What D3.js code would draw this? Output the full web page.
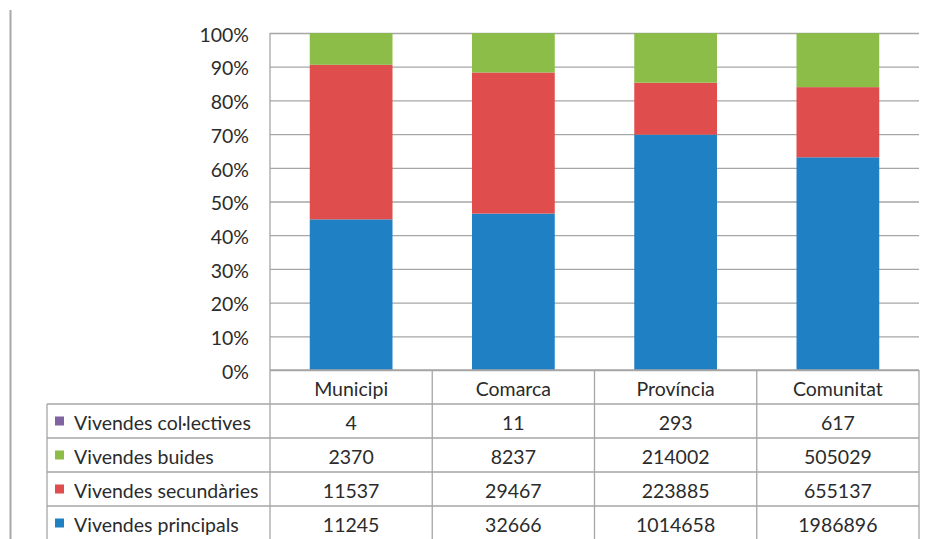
<!DOCTYPE html>
<html><head><meta charset="utf-8">
<script src="https://cdn.jsdelivr.net/npm/d3@7"></script>
<style>body{margin:0;background:#fff}svg{display:block}text{font-family:"Lato","Open Sans",sans-serif;fill:#2b2b2b}</style>
</head><body>
<script>
const categories = ["Municipi", "Comarca", "Província", "Comunitat"];
const seriesNames = ["Vivendes col·lectives", "Vivendes buides", "Vivendes secundàries", "Vivendes principals"];
const colectives = [4, 11, 293, 617];
const buides = [2370, 8237, 214002, 505029];
const secundaries = [11537, 29467, 223885, 655137];
const principals = [11245, 32666, 1014658, 1986896];
const yTicks = [0, 0.1, 0.2, 0.3, 0.4, 0.5, 0.6, 0.7, 0.8, 0.9, 1];
const colors = ["#8064a2", "#8bbd48", "#e04d4d", "#2080c4"];

(function(){
const W = 926, H = 539, FS = 19.5;
const svg = d3.select("body").append("svg").attr("width", W).attr("height", H);
const pL = 270, pR = 919, pT = 33, pB = 370;
const x = d3.scaleBand().domain(categories).range([pL, pR]).paddingInner(0.49).paddingOuter(0.245);
const xc = d3.scaleBand().domain(categories).range([pL, pR]);
const y = d3.scaleLinear().domain([0, 1]).range([pB, pT]);

svg.append("line").attr("x1", 10.5).attr("x2", 10.5).attr("y1", 10).attr("y2", H).attr("stroke", "#a8a8a8").attr("stroke-width", 2);

const grid = d3.axisLeft(y).tickValues(yTicks).tickSize(-(pR - pL)).tickFormat("");
svg.append("g").attr("transform", `translate(${pL},0)`).call(grid)
  .call(g => g.select(".domain").remove())
  .call(g => g.selectAll("line").attr("stroke", "#a6a6a6").attr("stroke-width", 1.3));

const yAx = d3.axisLeft(y).tickValues(yTicks).tickSize(0).tickPadding(21).tickFormat(d3.format(".0%"));
svg.append("g").attr("transform", `translate(${pL},2)`).call(yAx)
  .call(g => g.select(".domain").remove())
  .call(g => g.selectAll("text").attr("font-size", FS).style("fill", "#2b2b2b").attr("font-family", null));

const rows = categories.map((c, i) => ({cat: c, principals: principals[i], secundaries: secundaries[i], buides: buides[i], colectives: colectives[i]}));
const keys = ["principals", "secundaries", "buides", "colectives"];
const keyColor = {principals: colors[3], secundaries: colors[2], buides: colors[1], colectives: colors[0]};
const stack = d3.stack().keys(keys).offset(d3.stackOffsetExpand)(rows);
svg.append("g").selectAll("g").data(stack).join("g").attr("fill", d => keyColor[d.key])
  .selectAll("rect").data(d => d).join("rect")
  .attr("x", d => x(d.data.cat)).attr("width", x.bandwidth())
  .attr("y", d => y(d[1])).attr("height", d => y(d[0]) - y(d[1]));

const lineC = "#a6a6a6";
const rowH = 34;
const tableLeft = 47;
const tg = svg.append("g");
tg.selectAll("text.cat").data(categories).join("text").attr("class", "cat")
  .attr("x", d => xc(d) + xc.bandwidth() / 2).attr("y", pB + rowH / 2 + 1)
  .attr("text-anchor", "middle").attr("dominant-baseline", "central").attr("font-size", FS).text(d => d);
const tableData = [colectives, buides, secundaries, principals];
tableData.forEach((vals, r) => {
  const ry = pB + rowH * (r + 1);
  tg.append("rect").attr("x", tableLeft + 8).attr("y", ry + rowH / 2 - 4.5).attr("width", 9).attr("height", 9).attr("fill", colors[r]);
  tg.append("text").attr("x", tableLeft + 27).attr("y", ry + rowH / 2 + 1).attr("dominant-baseline", "central").attr("font-size", FS).text(seriesNames[r]);
  tg.selectAll(null).data(vals).join("text")
    .attr("x", (d, i) => xc(categories[i]) + xc.bandwidth() / 2).attr("y", ry + rowH / 2 + 1)
    .attr("text-anchor", "middle").attr("dominant-baseline", "central").attr("font-size", FS).text(d => d);
});
for (let r = 0; r <= 5; r++) {
  const ry = pB + rowH * r;
  tg.append("line").attr("x1", r === 0 ? pL : tableLeft).attr("x2", pR).attr("y1", ry).attr("y2", ry).attr("stroke", lineC).attr("stroke-width", 1.3);
}
const vx = [pL].concat(categories.map(c => xc(c) + xc.bandwidth()));
vx.forEach((vxx, i) => {
  tg.append("line").attr("x1", vxx).attr("x2", vxx).attr("y1", i === 0 ? pT : pB).attr("y2", H + 2).attr("stroke", lineC).attr("stroke-width", 1.3);
});
tg.append("line").attr("x1", tableLeft).attr("x2", tableLeft).attr("y1", pB + rowH).attr("y2", H + 2).attr("stroke", lineC).attr("stroke-width", 1.3);
})();
</script>
</body></html>
